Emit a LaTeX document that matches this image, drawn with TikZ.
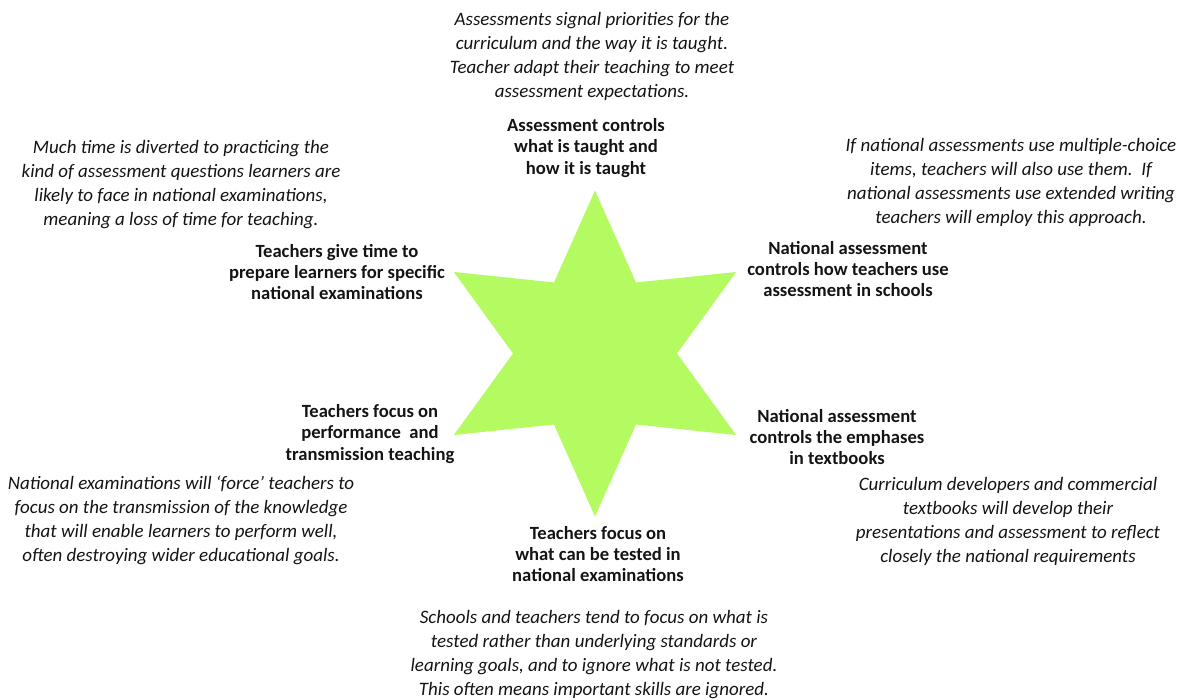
\documentclass[tikz,border=0pt]{standalone}
\usepackage{fontspec}
\setmainfont{Carlito}
\usepackage{tikz}
\usetikzlibrary{positioning}
\definecolor{StarLime}{RGB}{179, 251, 97}
\definecolor{TextGrey}{RGB}{20, 20, 20}

\begin{document}
\begin{tikzpicture}[x=0.02cm, y=0.02cm,
  claim/.style={align=center, inner sep=0pt, text=TextGrey,
                font=\fontsize{10.6}{12.2}\selectfont\bfseries},
  note/.style={align=center, inner sep=0pt, text=TextGrey,
               font=\fontsize{10.8}{13.66}\selectfont\itshape},
  starfill/.style={fill=StarLime, draw=none}]
  \useasboundingbox (0,0) rectangle (1184,699);
  % the six-pointed star
  \fill[starfill, shift={(595,345.5)}]
    (90:163) -- (120:82) -- (150:163) -- (180:82) -- (210:163) -- (240:82)
    -- (270:163) -- (300:82) -- (330:163) -- (0:82) -- (30:163) -- (60:82) -- cycle;
  % claims round the star
  \node[claim] (taught)  at (586,551) {Assessment controls\\what is taught and\\how it is taught};
  \node[claim] (usage)   at (848,430) {National assessment\\controls how teachers use\\assessment in schools};
  \node[claim] (books)   at (837,262) {National assessment\\controls the emphases\\in textbooks};
  \node[claim] (tested)  at (598,145) {Teachers focus on\\what can be tested in\\national examinations};
  \node[claim] (perform) at (370,265) {Teachers focus on\\performance\ \ and\\transmission teaching};
  \node[claim] (prep)    at (337,427) {Teachers give time to\\prepare learners for specific\\national examinations};
  % explanations
  \node[note] (taughtnote)  at (592,643) {Assessments signal priorities for the\\curriculum and the way it is taught.\\Teacher adapt their teaching to meet\\assessment expectations.};
  \node[note] (usagenote)   at (1011,517) {If national assessments use multiple-choice\\items, teachers will also use them.\ \ If\\national assessments use extended writing\\teachers will employ this approach.};
  \node[note] (booksnote)   at (1008,178) {Curriculum developers and commercial\\textbooks will develop their\\presentations and assessment to reflect\\closely the national requirements};
  \node[note] (testednote)  at (594,44) {Schools and teachers tend to focus on what is\\tested rather than underlying standards or\\learning goals, and to ignore what is not tested.\\This often means important skills are ignored.};
  \node[note] (performnote) at (181,179) {National examinations will `force' teachers to\\focus on the transmission of the knowledge\\that will enable learners to perform well,\\often destroying wider educational goals.};
  \node[note] (prepnote)    at (181,514) {Much time is diverted to practicing the\\kind of assessment questions learners are\\likely to face in national examinations,\\meaning a loss of time for teaching.};
\end{tikzpicture}
\end{document}
